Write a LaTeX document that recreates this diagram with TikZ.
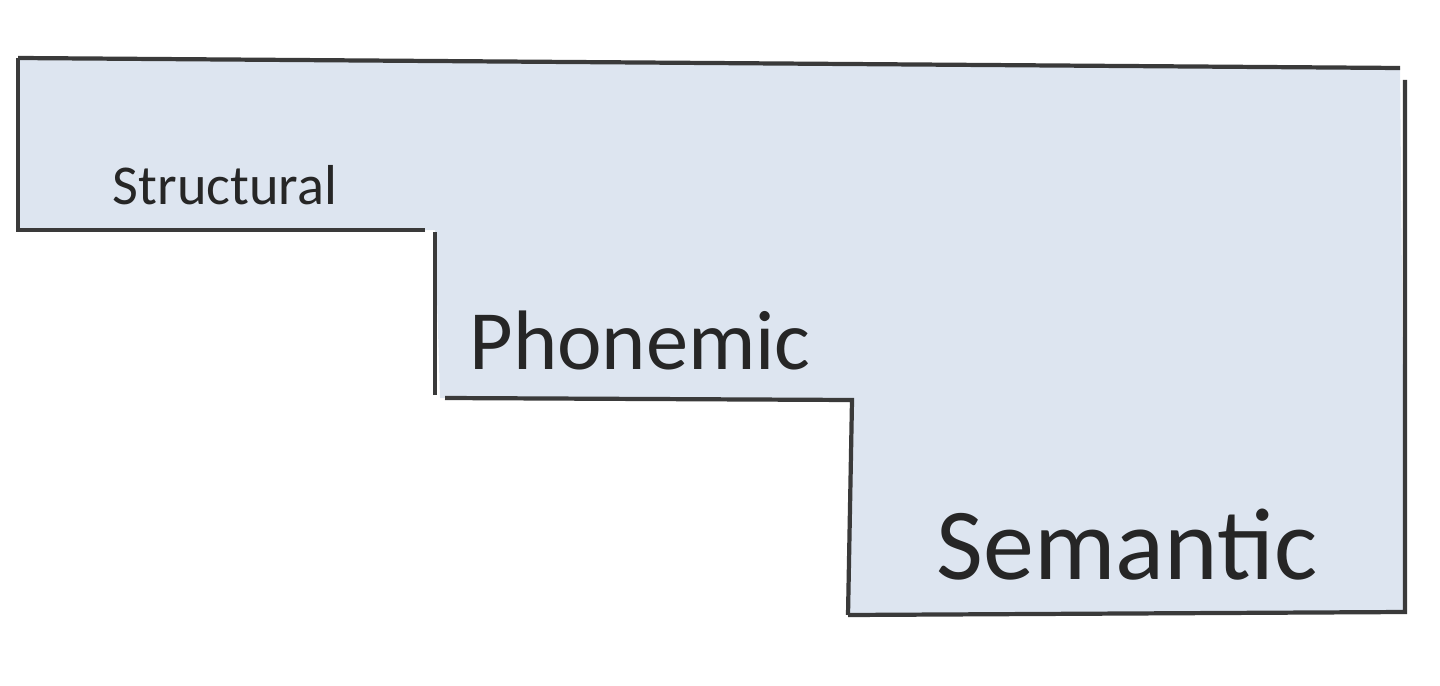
\documentclass[tikz,border=0pt]{standalone}
\usepackage{fontspec}
\setmainfont{Carlito}
\definecolor{stairblue}{HTML}{DDE5F0}
\definecolor{edgegray}{HTML}{3A3A3A}
\tikzset{
  edge/.style={draw=edgegray, line width=1.2pt},
  label/.style={text=black!85, inner sep=0pt}
}
\begin{document}
\begin{tikzpicture}[x=0.01cm,y=-0.01cm]
  \useasboundingbox (0,0) rectangle (1440,685);

  % staircase area
  \fill[stairblue] (18,58) -- (1400,68) -- (1405,612) -- (848,615) -- (852,400)
    -- (440,398) -- (435,230) -- (18,230) -- cycle;

  % outline pieces
  \draw[edge] (18,58) -- (1400,68);
  \draw[edge] (1405,80) -- (1405,612) -- (848,615);
  \draw[edge] (848,615) -- (852,400) -- (445,398);
  \draw[edge] (435,395) -- (435,232);
  \draw[edge] (425,230) -- (18,230) -- (18,58);

  % levels
  \node[label, font=\fontsize{16}{18}\selectfont] (structural) at (225,185) {Structural};
  \node[label, font=\fontsize{24}{28}\selectfont] (phonemic) at (640,340) {Phonemic};
  \node[label, font=\fontsize{29}{34}\selectfont] (semantic) at (1127,545) {Semantic};
\end{tikzpicture}
\end{document}
